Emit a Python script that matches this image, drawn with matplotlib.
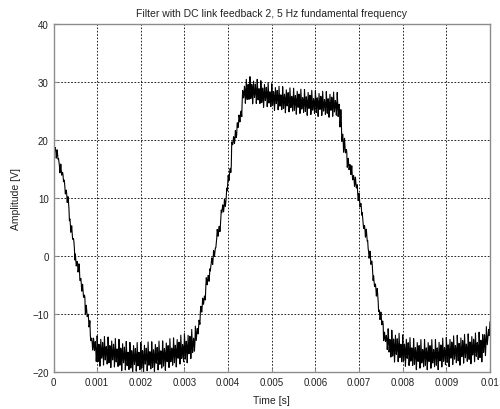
import numpy as np
import matplotlib.pyplot as plt

plt.rcParams["font.family"] = ["Liberation Sans", "DejaVu Sans"]

# slow part of the waveform (time [s], amplitude [V])
knot_t = [0.0, 0.0002, 0.0003, 0.0004, 0.00047, 0.0006, 0.0007, 0.00077, 0.00083,
          0.00088, 0.0009, 0.0012, 0.0015, 0.0017, 0.0020, 0.0025, 0.0028, 0.0030,
          0.0032, 0.00327, 0.00335, 0.00346, 0.00355, 0.00365, 0.00385, 0.00394,
          0.0041, 0.00426, 0.00435, 0.0044, 0.0046, 0.0052, 0.0056, 0.0060, 0.0065,
          0.00655, 0.00662, 0.0067, 0.00682, 0.00696, 0.00707, 0.00723, 0.00734,
          0.00746, 0.00755, 0.00762, 0.0079, 0.0083, 0.0088, 0.0090, 0.0097, 0.00985,
          0.0100]
knot_v = [19.0, 13.5, 10.0, 4.0, 0.0, -3.6, -8.8, -10.0, -13.3,
          -15.5, -16.3, -16.5, -17.0, -17.5, -17.5, -17.2, -16.5, -16.0,
          -15.0, -13.3, -10.0, -5.9, -2.7, 0.0, 8.0, 10.0,
          20.0, 24.0, 28.5, 29.0, 28.3, 27.0, 26.6, 26.3, 26.0,
          24.5, 19.5, 16.6, 14.3, 10.9, 6.2, 0.0, -4.7,
          -10.0, -13.3, -15.0, -16.0, -17.0, -17.0, -16.5, -15.8, -15.5,
          -12.0]

# ripple half-amplitude along the trace
ripple_t = [0.0, 0.0009, 0.0010, 0.0032, 0.0033, 0.0043, 0.0044, 0.0066, 0.0067,
            0.0076, 0.0077, 0.0099, 0.0100]
ripple_a = [1.0, 1.0, 2.6, 2.6, 1.0, 1.0, 2.2, 2.2, 1.0, 1.0, 2.6, 2.6, 1.0]

# switching ripple: relative spike heights of one repeating group
spike_shape = [1.0, -0.7, 0.45, -1.0, 0.8, -0.45, 0.6, -0.9, 1.0, -0.55, 0.35, -0.8]
f_sw = 24000.0
hold_step = 0.00012

t = np.arange(0, 0.01 + 1e-9, 1 / (2 * f_sw) / 2)
held = np.floor(t / hold_step) * hold_step
base = 0.35 * np.interp(held, knot_t, knot_v) + 0.65 * np.interp(t, knot_t, knot_v)
amp = np.interp(t, ripple_t, ripple_a)
idx = np.arange(len(t))
shape = np.array(spike_shape)[(idx // 2) % len(spike_shape)]
shape[idx % 2 == 1] *= 0.3
v = base + amp * shape

fig = plt.figure(figsize=(5.0, 4.1), dpi=100)
ax = fig.add_axes([0.107, 0.090, 0.873, 0.849])
ax.plot(t, v, color="black", lw=0.8)

ax.set_xlim(0, 0.01)
ax.set_ylim(-20, 40)
ax.set_xticks(np.arange(0, 0.0101, 0.001))
ax.set_xticklabels(["0", "0.001", "0.002", "0.003", "0.004", "0.005",
                    "0.006", "0.007", "0.008", "0.009", "0.01"])
ax.set_yticks([-20, -10, 0, 10, 20, 30, 40])
ax.grid(True, color="black", ls=(0, (2, 2)), lw=0.6)
for s in ax.spines.values():
    s.set_color("#8c8c8c")
    s.set_linewidth(1.0)
ax.tick_params(direction="in", length=3, color="#8c8c8c", labelsize=7,
               labelcolor="#222222", top=False, right=False)
ax.set_title("Filter with DC link feedback 2, 5 Hz fundamental frequency",
             fontsize=7.5, color="#222222", pad=6)
ax.set_xlabel("Time [s]", fontsize=7.5, color="#222222", labelpad=6)
ax.set_ylabel("Amplitude [V]", fontsize=7.5, color="#222222", labelpad=8)

fig.savefig("out.png", dpi=100)
